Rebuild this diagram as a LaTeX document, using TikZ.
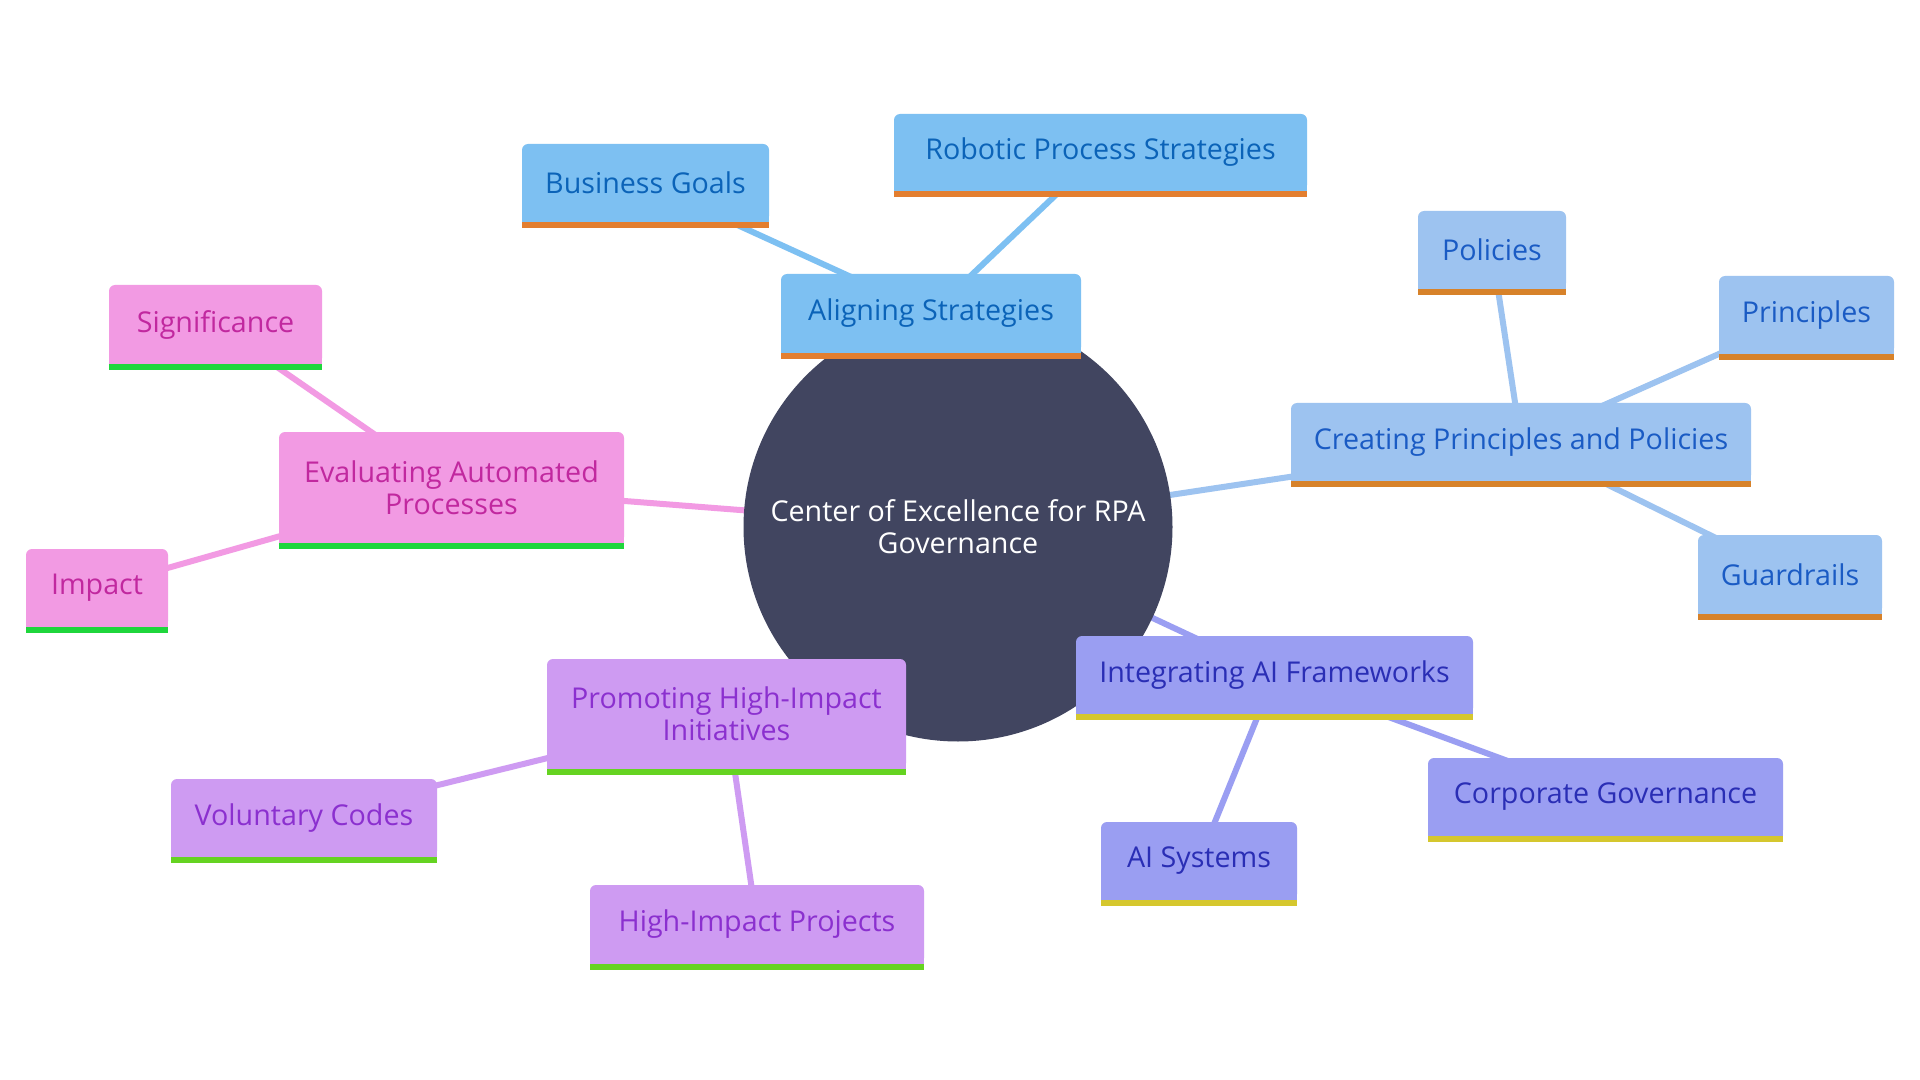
\documentclass[tikz,border=0pt]{standalone}
\usepackage{fontspec}
\setmainfont{Open Sans}
\usetikzlibrary{backgrounds}
\definecolor{cC}{HTML}{414560}
\definecolor{fA}{HTML}{7DC0F2}\definecolor{tA}{HTML}{0B63B8}\definecolor{bA}{HTML}{E37E2F}
\definecolor{fB}{HTML}{9DC3F0}\definecolor{tB}{HTML}{1A5BC4}\definecolor{bB}{HTML}{D7822A}
\definecolor{fC}{HTML}{9A9EF2}\definecolor{tC}{HTML}{2A2EB5}\definecolor{bC}{HTML}{D5C72E}
\definecolor{fD}{HTML}{CE9BF2}\definecolor{tD}{HTML}{8B30CF}\definecolor{bD}{HTML}{65D321}
\definecolor{fE}{HTML}{F29AE3}\definecolor{tE}{HTML}{C1289F}\definecolor{bE}{HTML}{1FD63C}
\begin{document}
\begin{tikzpicture}[x=0.75pt,y=-0.75pt,
  mm/.style n args={2}{fill=#1, text=#2, rounded corners=4.5pt, inner sep=0pt, align=center,
     font=\fontsize{21.5}{24}\selectfont},
  link/.style={line width=4.5pt, draw=#1},
]
\useasboundingbox (0,0) rectangle (1920,1080);

\node[circle, fill=cC, minimum size=429*0.75pt, inner sep=0pt, text=white, align=center,
  font=\fontsize{21.5}{24}\selectfont] (c) at (958,527) {Center of Excellence for RPA\\Governance};

\node[mm={fA}{tA}, minimum width=300*0.75pt, minimum height=79*0.75pt] (al) at (931,313.5) {Aligning Strategies};
\node[mm={fA}{tA}, minimum width=247*0.75pt, minimum height=78*0.75pt] (bg) at (645.5,183) {Business Goals};
\node[mm={fA}{tA}, minimum width=413*0.75pt, minimum height=77*0.75pt] (rp) at (1100.5,152.5) {Robotic Process Strategies};

\node[mm={fB}{tB}, minimum width=460*0.75pt, minimum height=78*0.75pt] (cp) at (1521,442) {Creating Principles and Policies};
\node[mm={fB}{tB}, minimum width=148*0.75pt, minimum height=78*0.75pt] (po) at (1492,250) {Policies};
\node[mm={fB}{tB}, minimum width=175*0.75pt, minimum height=78*0.75pt] (pr) at (1806.5,315) {Principles};
\node[mm={fB}{tB}, minimum width=184*0.75pt, minimum height=79*0.75pt] (gr) at (1790,574.5) {Guardrails};

\node[mm={fC}{tC}, minimum width=397*0.75pt, minimum height=78*0.75pt] (ia) at (1274.5,675) {Integrating AI Frameworks};
\node[mm={fC}{tC}, minimum width=355*0.75pt, minimum height=78*0.75pt] (cg) at (1605.5,797) {Corporate Governance};
\node[mm={fC}{tC}, minimum width=196*0.75pt, minimum height=78*0.75pt] (as) at (1199,861) {AI Systems};

\node[mm={fD}{tD}, minimum width=359*0.75pt, minimum height=110*0.75pt] (ph) at (726.5,714) {Promoting High-Impact\\Initiatives};
\node[mm={fD}{tD}, minimum width=266*0.75pt, minimum height=78*0.75pt] (vc) at (304,818) {Voluntary Codes};
\node[mm={fD}{tD}, minimum width=334*0.75pt, minimum height=79*0.75pt] (hp) at (757,924.5) {High-Impact Projects};

\node[mm={fE}{tE}, minimum width=345*0.75pt, minimum height=111*0.75pt] (ev) at (451.5,487.5) {Evaluating Automated\\Processes};
\node[mm={fE}{tE}, minimum width=213*0.75pt, minimum height=79*0.75pt] (si) at (215.5,324.5) {Significance};
\node[mm={fE}{tE}, minimum width=142*0.75pt, minimum height=78*0.75pt] (im) at (97,588) {Impact};

\foreach \n/\f/\b in {al/fA/bA, bg/fA/bA, rp/fA/bA, cp/fB/bB, po/fB/bB, pr/fB/bB, gr/fB/bB,
  ia/fC/bC, cg/fC/bC, as/fC/bC, ph/fD/bD, vc/fD/bD, hp/fD/bD, ev/fE/bE, si/fE/bE, im/fE/bE}{
  \fill[fill=\f] ([yshift=5pt]\n.south west) rectangle (\n.south east);
  \fill[fill=\b] (\n.south west) rectangle ([yshift=-4.5pt]\n.south east);
}

\begin{pgfonlayer}{background}
\fill[white] (0,0) rectangle (1920,1080);
\draw[link=fA] (c.center) -- (al.center);
\draw[link=fB] (c.center) -- (cp.center);
\draw[link=fC] (c.center) -- (ia.center);
\draw[link=fD] (c.center) -- (ph.center);
\draw[link=fE] (c.center) -- (ev.center);
\draw[link=fA] (al.center) -- (bg.center);
\draw[link=fA] (al.center) -- (rp.center);
\draw[link=fB] (cp.center) -- (po.center);
\draw[link=fB] (cp.center) -- (pr.center);
\draw[link=fB] (cp.center) -- (gr.center);
\draw[link=fC] (ia.center) -- (as.center);
\draw[link=fC] (ia.center) -- (cg.center);
\draw[link=fD] (ph.center) -- (vc.center);
\draw[link=fD] (ph.center) -- (hp.center);
\draw[link=fE] (ev.center) -- (si.center);
\draw[link=fE] (ev.center) -- (im.center);
\end{pgfonlayer}
\end{tikzpicture}
\end{document}
